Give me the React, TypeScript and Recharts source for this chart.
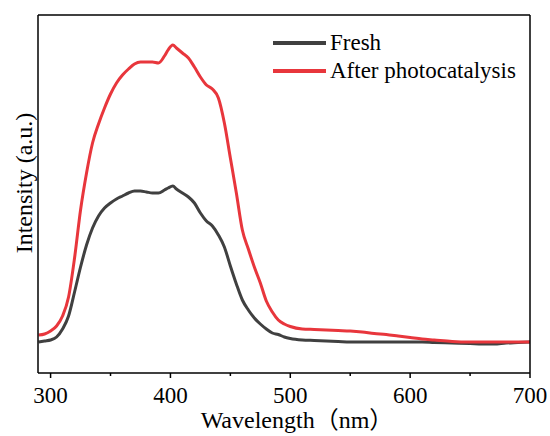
import React from "react";
import { LineChart, Line, XAxis, YAxis, Legend } from "recharts";

const wavelengths = [290, 295, 300, 305, 310, 315, 320, 325, 330, 335, 340, 345, 350, 355, 360, 365, 370, 375, 380, 385, 390, 395, 398, 402, 405, 410, 415, 420, 425, 430, 435, 440, 445, 450, 455, 460, 465, 470, 475, 480, 485, 490, 495, 500, 510, 520, 530, 540, 550, 560, 570, 580, 590, 600, 610, 620, 635, 650, 660, 670, 680, 690, 700];
const fresh = [31, 32, 33, 36, 44, 57, 81, 106, 128, 145, 157, 165, 170, 174, 177, 180, 182, 182, 181, 180, 180, 183, 185, 187, 184, 180, 176, 170, 160, 152, 147, 138, 126, 107, 89, 73, 63, 55, 49, 44, 40, 38.5, 36, 34.5, 33, 32.5, 32, 31.5, 31, 31, 31, 31, 31, 31, 31, 30.5, 30, 29.5, 29, 29, 30, 30.5, 31];
const afterPhoto = [38, 39, 42, 47, 57, 76, 115, 163, 200, 230, 249, 265, 279, 290, 298, 304, 309, 311, 311, 311, 310, 317, 323, 328, 325, 320, 315, 306, 296, 288, 284, 275, 250, 215, 180, 143, 124, 106, 90, 72, 61, 53, 49, 46.5, 44, 43.5, 43, 42.5, 42, 41, 39.5, 38.5, 37, 35.5, 34, 33, 31.5, 31, 31, 31, 31, 31, 31];
const xTicks = [300, 350, 400, 450, 500, 550, 600, 650, 700];
const majorLabels = ["300", "400", "500", "600", "700"];
const seriesNames = ["Fresh", "After photocatalysis"];
const seriesColors = ["#404040", "#e8363c"];

const data = wavelengths.map((w, i) => ({ w, fresh: fresh[i], after: afterPhoto[i] }));

const FONT = "'Liberation Serif', 'Noto Sans CJK SC', serif";

const XTick = (props: any) => {
  const { x, y, payload } = props;
  const label = String(payload.value);
  const major = majorLabels.includes(label);
  return (
    <g>
      <line x1={x} x2={x} y1={y - 5} y2={major ? y : y - 2} stroke="#000" strokeWidth={1.5} />
      {major && (
        <text x={x} y={y + 25} textAnchor="middle" fontFamily={FONT} fontSize={23} fill="#000">
          {label}
        </text>
      )}
    </g>
  );
};

const XLabel = (props: any) => {
  const vb = props.viewBox || { x: 38, y: 373, width: 492, height: 63 };
  return (
    <text x={vb.x + vb.width / 2 + 13} y={vb.y + 55} textAnchor="middle" fontFamily={FONT} fontSize={24} fill="#000">
      Wavelength（nm）
    </text>
  );
};

const YLabel = (props: any) => {
  const vb = props.viewBox || { x: 37, y: 15, width: 1, height: 358 };
  const cx = vb.x + vb.width - 6;
  const cy = vb.y + vb.height / 2 - 11;
  return (
    <text transform={`translate(${cx}, ${cy}) rotate(-90)`} textAnchor="middle" fontFamily={FONT} fontSize={24} fill="#000">
      Intensity (a.u.)
    </text>
  );
};

const LegendContent = () => (
  <div style={{ fontFamily: FONT, fontSize: 23, color: "#000" }}>
    {seriesNames.map((n, i) => (
      <div key={n} style={{ display: "flex", alignItems: "center", height: 28 }}>
        <span style={{ display: "inline-block", width: 53, height: 4, background: seriesColors[i], marginRight: 4 }} />
        <span>{n}</span>
      </div>
    ))}
  </div>
);

const axisStyle = { stroke: "#000", strokeWidth: 1.5 };

export default function App() {
  return (
    <div style={{ position: "absolute", left: 0, top: 0, width: 550, height: 436, background: "#fff" }}>
      <LineChart width={550} height={436} data={data} margin={{ top: 14, right: 19, bottom: 0, left: 37 }}>
        <XAxis
          dataKey="w"
          type="number"
          domain={[289.5, 700]}
          ticks={xTicks}
          allowDataOverflow
          height={63}
          tickSize={5}
          tickMargin={0}
          tickLine={false}
          tick={<XTick />}
          axisLine={axisStyle}
          interval={0}
          label={<XLabel />}
        />
        <XAxis xAxisId="top" orientation="top" dataKey="w" type="number" domain={[289.5, 700]} allowDataOverflow height={1} tick={false} tickLine={false} axisLine={axisStyle} />
        <YAxis type="number" domain={[0, 358]} allowDataOverflow width={1} tick={false} tickLine={false} axisLine={axisStyle} label={<YLabel />} />
        <YAxis yAxisId="right" orientation="right" type="number" domain={[0, 358]} width={1} tick={false} tickLine={false} axisLine={axisStyle} />
        <Legend content={<LegendContent />} layout="horizontal" verticalAlign="middle" align="center" wrapperStyle={{ top: 29, left: 273, width: 260, height: 56 }} />
        <Line dataKey="fresh" name={seriesNames[0]} stroke={seriesColors[0]} strokeWidth={3} dot={false} type="monotone" isAnimationActive={false} />
        <Line dataKey="after" name={seriesNames[1]} stroke={seriesColors[1]} strokeWidth={3} dot={false} type="monotone" isAnimationActive={false} />
      </LineChart>
    </div>
  );
}
